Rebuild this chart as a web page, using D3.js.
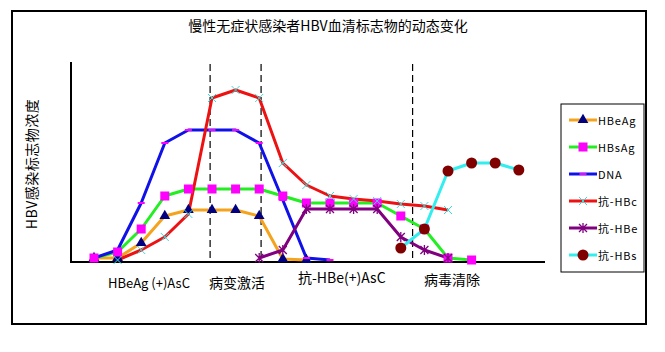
<!DOCTYPE html>
<html><head><meta charset="utf-8">
<script src="https://cdn.jsdelivr.net/npm/d3@7"></script>
<style>body{margin:0;background:#fff}svg{display:block}text{font-family:"Noto Sans CJK SC","DejaVu Sans",sans-serif}</style>
</head><body><div id="c"></div>
<script>
const title = "慢性无症状感染者HBV血清标志物的动态变化";
const yTitle = "HBV感染标志物浓度";
const stages = ["HBeAg (+)AsC", "病变激活", "抗-HBe(+)AsC", "病毒清除"];
const stagePos = [2.33, 6.06, 10.5, 15.17];
const dividers = [4.92, 7.08, 13.5];
const idx = d3.range(19);
const seriesNames = ["HBeAg", "HBsAg", "DNA", "抗-HBc", "抗-HBe", "抗-HBs"];
const hbeag = [2, 2, 9.5, 23, 26, 26, 26, 23, 1.5, 1, null, null, null, null, null, null, null, null, null];
const hbsag = [2, 5, 16.5, 33, 36.5, 36.5, 36.5, 36.5, 33, 29.5, 29.5, 29.5, 29.5, 23, 16.5, 2, 1, null, null];
const dna = [2, 6, 29.5, 59.5, 66, 66, 66, 59.5, 31, 2, 1, null, null, null, null, null, null, null, null];
const antiHBc = [null, 1, 6, 12.5, 24, 82, 86, 82, 49.5, 38.5, 33, 31.5, 30.5, 29, 28, 26, null, null, null];
const antiHBe = [null, null, null, null, null, null, null, 2, 6, 26.5, 26.5, 26.5, 26.5, 12.5, 6, 2, null, null, null];
const antiHBs = [null, null, null, null, null, null, null, null, null, null, null, null, null, 7, 16.5, 45.5, 49.5, 49.5, 46];

const W = 665, H = 352;
const svg = d3.select("#c").append("svg").attr("width", W).attr("height", H);
svg.append("rect").attr("x", 12).attr("y", 11).attr("width", 634).attr("height", 313)
  .attr("fill", "none").attr("stroke", "#000").attr("stroke-width", 2);
svg.append("text").attr("x", 328).attr("y", 31).attr("text-anchor", "middle")
  .attr("font-size", 14).text(title);

const x = d3.scaleLinear().domain([0, 18]).range([94, 518.8]);
const y = d3.scaleLinear().domain([0, 100]).range([262, 62]);

// axes
svg.append("line").attr("x1", 71).attr("x2", 71).attr("y1", y(100)).attr("y2", y(0)).attr("stroke", "#000").attr("stroke-width", 2);
svg.append("line").attr("x1", 70).attr("x2", 545).attr("y1", y(0)).attr("y2", y(0)).attr("stroke", "#000").attr("stroke-width", 2);

svg.append("text").attr("transform", `translate(37,164) rotate(-90)`).attr("text-anchor", "middle")
  .attr("font-size", 14).attr("letter-spacing", 0.5).text(yTitle);

// dividers
dividers.forEach(d => {
  svg.append("line").attr("x1", x(d)).attr("x2", x(d)).attr("y1", y(99)).attr("y2", y(0))
    .attr("stroke", "#000").attr("stroke-width", 1.2).attr("stroke-dasharray", "7,4");
});

const stageY = [288, 288, 283, 285];
stages.forEach((s, i) => {
  svg.append("text").attr("x", x(stagePos[i])).attr("y", stageY[i])
    .attr("text-anchor", "middle").attr("font-size", i === 0 ? 13 : 14).text(s);
});

const series = [
  {name: seriesNames[0], data: hbeag, color: "#f5a21c", mk: "tri", mc: "#000080"},
  {name: seriesNames[1], data: hbsag, color: "#22ee22", mk: "sq", mc: "#ff00ff"},
  {name: seriesNames[2], data: dna, color: "#1010e8", mk: "bar", mc: "#ff00ff"},
  {name: seriesNames[3], data: antiHBc, color: "#ee1111", mk: "x", mc: "#33dddd"},
  {name: seriesNames[4], data: antiHBe, color: "#800080", mk: "star", mc: "#800080"},
  {name: seriesNames[5], data: antiHBs, color: "#33eeee", mk: "circ", mc: "#800000"}
];

function marker(g, type, cx, cy, col) {
  if (type === "tri") g.append("path").attr("d", d3.symbol(d3.symbolTriangle, 50)()).attr("transform", `translate(${cx},${cy})`).attr("fill", col);
  else if (type === "sq") g.append("rect").attr("x", cx - 4.5).attr("y", cy - 4.5).attr("width", 9).attr("height", 9).attr("fill", col);
  else if (type === "bar") g.append("rect").attr("x", cx - 3.5).attr("y", cy - 1).attr("width", 7).attr("height", 2).attr("fill", col);
  else if (type === "x") g.append("path").attr("d", `M${cx-4},${cy-4}L${cx+4},${cy+4}M${cx-4},${cy+4}L${cx+4},${cy-4}`).attr("stroke", col).attr("stroke-width", 1);
  else if (type === "star") g.append("path").attr("d", `M${cx-4},${cy-4}L${cx+4},${cy+4}M${cx-4},${cy+4}L${cx+4},${cy-4}M${cx},${cy-5}L${cx},${cy+5}`).attr("stroke", col).attr("stroke-width", 1.3);
  else if (type === "circ") g.append("circle").attr("cx", cx).attr("cy", cy).attr("r", 5.5).attr("fill", col);
}

const line = d3.line().defined(d => d[1] != null).x(d => x(d[0])).y(d => y(d[1]));
series.forEach(s => {
  const pts = idx.map(i => [i, s.data[i]]);
  svg.append("path").attr("d", line(pts)).attr("fill", "none").attr("stroke", s.color).attr("stroke-width", 3).attr("stroke-linejoin", "round");
});
series.forEach(s => {
  const g = svg.append("g");
  idx.forEach(i => { if (s.data[i] != null) marker(g, s.mk, x(i), y(s.data[i]), s.mc); });
});

// legend
svg.append("rect").attr("x", 561).attr("y", 104).attr("width", 83).attr("height", 168)
  .attr("fill", "#fff").attr("stroke", "#000").attr("stroke-width", 1);
series.forEach((s, i) => {
  const ly = 120 + i * 27;
  const g = svg.append("g");
  g.append("line").attr("x1", 569).attr("x2", 597).attr("y1", ly).attr("y2", ly).attr("stroke", s.color).attr("stroke-width", 3);
  marker(g, s.mk, 583, ly, s.mc);
  g.append("text").attr("x", 598).attr("y", ly + 4.5).attr("font-size", 11).attr("letter-spacing", 0.8).text(s.name);
});
</script></body></html>
